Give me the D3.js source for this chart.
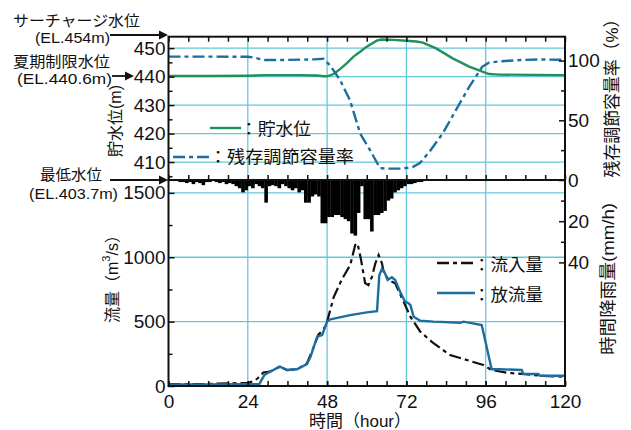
<!DOCTYPE html>
<html><head><meta charset="utf-8">
<script src="https://cdn.jsdelivr.net/npm/d3@7"></script>
<style>
html,body{margin:0;padding:0;background:#fff;}
svg{display:block;}
text{font-family:"Liberation Sans",Arial,"Noto Sans CJK JP",sans-serif;fill:#111;}
</style></head>
<body>
<svg id="chart" width="631" height="430"></svg>
<script>
// ---------------- data ----------------
const hourTicks = [0, 24, 48, 72, 96, 120];
const levelTicks = [410, 420, 430, 440, 450];
const pctTicks = [0, 50, 100];
const flowTicks = [0, 500, 1000, 1500];
const rainTicks = [20, 40];

// hourly rainfall (mm/h), index = hour
const rainfall = [0.5,0.5,0.5,1,1,1.5,1,2,1,1.5,
  2.5,1,1,0.5,1,1.5,1,2,1.5,2,
  3,4,6,5,3,4,2,3,4,11,
  3,2.5,3,4,2,3,4,5,4,6,
  5,11,11,8,7,8,21,21,18,18,
  17,17,18,19,20,26,27,16,3,19,
  19,25,17,17,16,15,10,9,6,5,
  4,3,2,2,1.5,1,1,0.5];

const levelHours = [0,12,24,30,40,45,47,48,50,52,54,56,58,60,63,64.5,68,72,75,77,81,86,91,95,97,100,110,120];
const levelValues = [440.2,440.2,440.3,440.5,440.5,440.4,440.1,440.1,440.9,442.7,444.7,447.0,448.7,450.5,452.6,453.0,452.9,452.6,452.3,451.9,449.9,446.4,443.5,441.7,440.9,440.7,440.6,440.5];

const pctHours = [0,12,24,26,29,35,44,46.9,48.9,51.9,54.9,58,61,64,66,70,72,74,76,79,83,87,91,95,97,100,103,107,112,120];
const pctValues = [103.3,103.3,103.2,102.4,100.5,100.5,101,101.5,96,83.8,67,39,25,10,9.5,9.5,10,11,14,23.7,39,58.6,78,95,98.3,99.3,99.8,100.5,101,100.6];

const inflowHours = [0,10,18,24,26,27,28.7,30.7,33.7,35.9,38.9,41.9,43.9,45.4,46.9,48,50,52.5,55,56.5,57.2,58.2,59.5,60.5,61.6,62.6,63.6,64.6,65.1,66.6,68.6,70.7,73.2,76.2,80.2,85.2,90.3,95.3,97.8,102.4,107.4,112.4,120];
const inflowValues = [15,15,20,25,40,60,105,111,150,124,130,176,300,400,435,500,690,830,940,1095,1108,990,800,784,850,953,1017,953,888,823,797,681,538,422,332,241,202,163,124,103,93,80,72];

const outflowHours = [0,10,24,27.5,28,29,30.7,33.7,35.9,38.9,41.9,43,45,46.5,48,49,55,60,63.1,63.8,64.6,65.3,66.3,67.6,68.6,70.1,71.6,72.5,73.2,74.2,76.2,80.2,88.3,89.3,94.8,97.8,100.4,106.9,107.4,111.9,112.5,120];
const outflowValues = [12,12,14,15,40,85,111,150,124,130,170,228,383,396,500,518,551,572,582,860,910,888,823,844,823,732,655,645,629,538,507,500,491,500,474,130,130,124,93,93,80,80];

// ---------------- layout ----------------
const svg = d3.select("#chart");
const X0 = 168.5, X1 = 565, TOP = 36.7, MID = 180, BOT = 386;
const GRID = "#62c9dc";
const GREEN = "#22905a";
const BLUE = "#1c6e9e";

const x = d3.scaleLinear().domain([0,120]).range([X0,X1]);
const yLevel = d3.scaleLinear().domain([403.7,454]).range([MID,TOP]);
const yPct = d3.scaleLinear().domain([0,120]).range([MID,TOP]);
const yFlow = d3.scaleLinear().domain([0,1600]).range([BOT,MID]);
const yRain = d3.scaleLinear().domain([0,100]).range([MID,BOT]);
const fmt = d3.format("d");

// grid
const g = svg.append("g");
g.selectAll(".vg").data(hourTicks.slice(1,-1)).join("line")
  .attr("x1",d=>x(d)).attr("x2",d=>x(d)).attr("y1",TOP).attr("y2",BOT)
  .attr("stroke",GRID).attr("stroke-width",1.3);
g.selectAll(".hg1").data(levelTicks).join("line")
  .attr("x1",X0).attr("x2",X1).attr("y1",d=>yLevel(d)).attr("y2",d=>yLevel(d))
  .attr("stroke",GRID).attr("stroke-width",1.3);
g.selectAll(".hg2").data(flowTicks.slice(1)).join("line")
  .attr("x1",X0).attr("x2",X1).attr("y1",d=>yFlow(d)).attr("y2",d=>yFlow(d))
  .attr("stroke",GRID).attr("stroke-width",1.3);

// rain bars
svg.append("g").selectAll("rect").data(rainfall).join("rect")
  .attr("x",(d,i)=>x(i)).attr("width",(d,i)=>x(i+1)-x(i)+0.3)
  .attr("y",MID).attr("height",d=>yRain(d)-MID)
  .attr("fill","#000");

// lines
function series(hours, values, ys){
  return d3.line().x((d,i)=>x(hours[i])).y(d=>ys(d))(values);
}
svg.append("path").attr("d",series(levelHours,levelValues,yLevel))
  .attr("fill","none").attr("stroke",GREEN).attr("stroke-width",2.4);
svg.append("path").attr("d",series(pctHours,pctValues,yPct))
  .attr("fill","none").attr("stroke",BLUE).attr("stroke-width",2.4)
  .attr("stroke-dasharray","12,4,4,4");
svg.append("path").attr("d",series(inflowHours,inflowValues,yFlow))
  .attr("fill","none").attr("stroke","#111").attr("stroke-width",2.2)
  .attr("stroke-dasharray","12,4,4,4");
svg.append("path").attr("d",series(outflowHours,outflowValues,yFlow))
  .attr("fill","none").attr("stroke",BLUE).attr("stroke-width",2.4);

// frames
svg.append("rect").attr("x",X0).attr("y",TOP).attr("width",X1-X0).attr("height",MID-TOP)
  .attr("fill","none").attr("stroke","#111").attr("stroke-width",2);
svg.append("rect").attr("x",X0).attr("y",MID).attr("width",X1-X0).attr("height",BOT-MID)
  .attr("fill","none").attr("stroke","#111").attr("stroke-width",2);

// axes
const FS = 19;
function styleAxis(sel){
  sel.select(".domain").remove();
  sel.selectAll("line").attr("stroke","#111").attr("stroke-width",1.5);
  sel.selectAll("text").attr("font-size",FS).attr("fill","#111")
    .attr("font-family","'Liberation Sans',Arial,sans-serif");
}
function ax(gen, tx, ty){
  svg.append("g").attr("transform",`translate(${tx},${ty})`).call(gen).call(styleAxis);
}
const minorHours = d3.range(0,121,6);
// top panel
ax(d3.axisLeft(yLevel).tickValues(levelTicks).tickFormat(fmt).tickSizeInner(-6).tickSizeOuter(0).tickPadding(3), X0, 0);
ax(d3.axisLeft(yLevel).tickValues([405,415,425,435,445]).tickSizeInner(-4).tickSizeOuter(0).tickFormat(""), X0, 0);
ax(d3.axisRight(yPct).tickValues(pctTicks).tickFormat(fmt).tickSizeInner(-6).tickSizeOuter(0).tickPadding(3), X1, 0);
ax(d3.axisRight(yPct).tickValues([25,75]).tickSizeInner(-4).tickSizeOuter(0).tickFormat(""), X1, 0);
ax(d3.axisTop(x).tickValues(minorHours).tickSizeInner(-5).tickSizeOuter(0).tickFormat(""), 0, TOP);
ax(d3.axisBottom(x).tickValues(minorHours).tickSizeInner(-5).tickSizeOuter(0).tickFormat(""), 0, MID);
// bottom panel
ax(d3.axisLeft(yFlow).tickValues(flowTicks).tickFormat(fmt).tickSizeInner(-6).tickSizeOuter(0).tickPadding(3), X0, 0);
ax(d3.axisLeft(yFlow).tickValues([250,750,1250]).tickSizeInner(-4).tickSizeOuter(0).tickFormat(""), X0, 0);
ax(d3.axisRight(yRain).tickValues(rainTicks).tickFormat(fmt).tickSizeInner(-6).tickSizeOuter(0).tickPadding(3), X1, 0);
ax(d3.axisRight(yRain).tickValues([10,30]).tickSizeInner(-4).tickSizeOuter(0).tickFormat(""), X1, 0);
ax(d3.axisBottom(x).tickValues(hourTicks).tickFormat(fmt).tickSizeInner(-5).tickSizeOuter(0).tickPadding(9), 0, BOT);
ax(d3.axisBottom(x).tickValues(minorHours).tickSizeInner(-5).tickSizeOuter(0).tickFormat(""), 0, BOT);

// axis titles
function vtext(txt, cx, cy, fs, len){
  const t = svg.append("text").attr("transform",`translate(${cx},${cy}) rotate(-90)`)
    .attr("text-anchor","middle").attr("dominant-baseline","central")
    .attr("font-size",fs).text(txt);
  if(len) t.attr("textLength",len).attr("lengthAdjust","spacingAndGlyphs");
  return t;
}
vtext("貯水位(m)", 115, 121, 16, 72);
vtext("残存調節容量率（%）", 612, 94, 17, 167);
vtext("時間降雨量(mm/h)", 608, 279, 17, 152);
const ft = svg.append("text").attr("transform",`translate(112,275) rotate(-90)`)
  .attr("text-anchor","middle").attr("dominant-baseline","central").attr("font-size",16);
ft.append("tspan").text("流量（m");
ft.append("tspan").attr("font-size",11).attr("dy",-6).text("3");
ft.append("tspan").attr("dy",6).text("/s）");
svg.append("text").attr("x",360).attr("y",427).attr("text-anchor","middle")
  .attr("font-size",17).text("時間（hour）");

// annotations
function ann(txt, xx, yy, fs, anchor, len){
  const t = svg.append("text").attr("x",xx).attr("y",yy).attr("font-size",fs)
    .attr("text-anchor",anchor).text(txt);
  if(len) t.attr("textLength",len).attr("lengthAdjust","spacingAndGlyphs");
}
ann("サーチャージ水位", 13, 26, 15, "start", 127);
ann("(EL.454m)", 35, 43, 14.5, "start", 75);
ann("夏期制限水位", 13, 67, 15, "start", 97);
ann("(EL.440.6m)", 17, 84, 14.5, "start", 95);
ann("最低水位", 40, 180, 15, "start", 62);
ann("(EL.403.7m)", 29, 199, 14.5, "start", 89);
function arrow(x1, x2, yy){
  svg.append("line").attr("x1",x1).attr("x2",x2-6).attr("y1",yy).attr("y2",yy)
    .attr("stroke","#111").attr("stroke-width",1.8);
  svg.append("path").attr("d",`M${x2},${yy}L${x2-9},${yy-4.5}L${x2-9},${yy+4.5}Z`).attr("fill","#111");
}
arrow(110, 168, 35);
arrow(112, 134, 76);
arrow(110, 168, 180);

// legends
function legend(x1, x2, yy, color, dash, label, tx, ty, len){
  const l = svg.append("line").attr("x1",x1).attr("x2",x2).attr("y1",yy).attr("y2",yy)
    .attr("stroke",color).attr("stroke-width",2.4);
  if(dash) l.attr("stroke-dasharray",dash);
  const t = svg.append("text").attr("x",tx).attr("y",ty).attr("font-size",17).text(label);
  if(len) t.attr("textLength",len).attr("lengthAdjust","spacingAndGlyphs");
}
legend(210, 241, 128, GREEN, null, "：貯水位", 240, 135, 71);
legend(173, 210, 157, BLUE, "12,4,4,4", "：残存調節容量率", 209, 163, 145);
legend(437, 475, 263, "#111", "12,4,4,4", "：流入量", 473, 271, 70);
legend(437, 475, 293, BLUE, null, "：放流量", 473, 301, 70);
</script>
</body></html>
